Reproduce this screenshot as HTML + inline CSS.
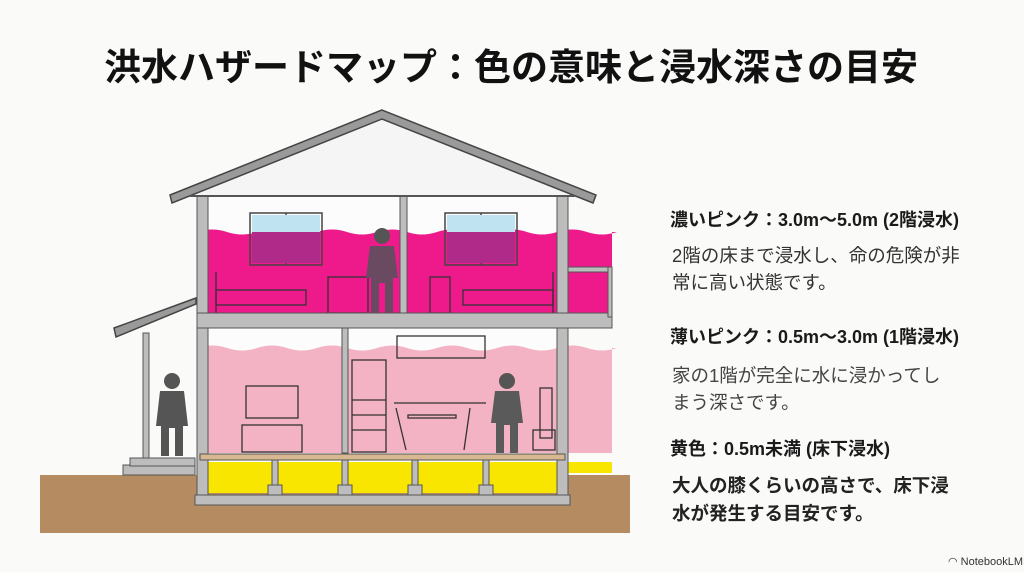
<!DOCTYPE html>
<html><head><meta charset="utf-8"><style>
html,body{margin:0;padding:0;background:#fafaf8;}
body{width:1024px;height:572px;overflow:hidden;position:relative;font-family:"Liberation Sans","Noto Sans CJK JP",sans-serif;}
.t{position:absolute;white-space:nowrap;color:#1a1a1a;}
</style></head><body>
<div class="t" style="left:104px;top:37px;font-size:37px;font-weight:bold;color:#111;">洪水ハザードマップ：色の意味と浸水深さの目安</div>
<svg width="1024" height="572" style="position:absolute;left:0;top:0">
<rect x="40" y="475" width="590" height="58" fill="#b58b62"/>
<polygon points="382,118 190,196 575,196" fill="#f5f5f5"/>
<rect x="208" y="196" width="349" height="117" fill="#fcfcfc"/>
<rect x="208" y="328" width="349" height="126" fill="#fcfcfc"/>
<path d="M197,232 q15,-5 30,0 t30,0 t30,0 t30,0 t30,0 t30,0 t30,0 t30,0 t30,0 t30,0 t30,0 t30,0 t30,0 t30,0 L612,232 L612,313 L197,313 Z" fill="#ee1a8c"/>
<path d="M197,348 q15,-5 30,0 t30,0 t30,0 t30,0 t30,0 t30,0 t30,0 t30,0 t30,0 t30,0 t30,0 t30,0 t30,0 t30,0 L612,348 L612,453 L197,453 Z" fill="#f3b3c4"/>
<rect x="205" y="462" width="352" height="31" fill="#f8e500"/>
<rect x="565" y="462" width="47" height="11" fill="#f8e500"/>
<g stroke="#444" stroke-width="1.5" fill="none">
<rect x="250" y="213" width="72" height="52"/><line x1="286" y1="213" x2="286" y2="265"/>
<rect x="445" y="213" width="72" height="52"/><line x1="481" y1="213" x2="481" y2="265"/>
</g>
<rect x="252" y="215" width="68" height="17" fill="#bfe3f0"/>
<rect x="447" y="215" width="68" height="17" fill="#bfe3f0"/>
<rect x="252" y="232" width="68" height="31" fill="#b02a8a"/>
<rect x="447" y="232" width="68" height="31" fill="#b02a8a"/>
<g stroke="#333" stroke-width="1.3" fill="none">
<rect x="216" y="290" width="90" height="15"/><line x1="216" y1="272" x2="216" y2="313"/>
<rect x="463" y="290" width="90" height="15"/><line x1="553" y1="272" x2="553" y2="313"/>
<rect x="328" y="277" width="40" height="36"/><rect x="430" y="277" width="20" height="36"/>
<rect x="246" y="386" width="52" height="32"/><rect x="242" y="425" width="60" height="27"/>
<rect x="352" y="360" width="34" height="92"/><line x1="352" y1="400" x2="386" y2="400"/><line x1="352" y1="415" x2="386" y2="415"/><line x1="352" y1="430" x2="386" y2="430"/>
<rect x="397" y="336" width="88" height="22"/>
<line x1="394" y1="403" x2="486" y2="403"/><rect x="408" y="415" width="48" height="3"/>
<line x1="396" y1="408" x2="406" y2="450"/><line x1="470" y1="408" x2="464" y2="450"/>
<rect x="540" y="388" width="12" height="50"/><rect x="533" y="430" width="22" height="20"/>
</g>
<g fill="#bdbdbd" stroke="#555" stroke-width="1">
<rect x="197" y="196" width="11" height="309"/>
<rect x="557" y="196" width="11" height="309"/>
<rect x="400" y="196" width="7" height="117"/>
<rect x="342" y="328" width="6" height="125"/>
<rect x="197" y="313" width="415" height="15"/>
<rect x="568" y="267" width="44" height="5"/>
<rect x="608" y="267" width="4" height="50"/>
<rect x="195" y="495" width="375" height="10"/>
<rect x="143" y="333" width="6" height="142"/>
<rect x="123" y="465" width="72" height="10"/><rect x="130" y="458" width="65" height="8"/>
</g>
<rect x="200" y="454" width="365" height="6" fill="#d8b890" stroke="#555" stroke-width="1"/>
<g fill="#bdbdbd" stroke="#555" stroke-width="1">
<rect x="272" y="460" width="6" height="25"/><rect x="342" y="460" width="6" height="25"/><rect x="412" y="460" width="6" height="25"/><rect x="483" y="460" width="6" height="25"/>
<rect x="268" y="485" width="14" height="10"/><rect x="338" y="485" width="14" height="10"/><rect x="408" y="485" width="14" height="10"/><rect x="479" y="485" width="14" height="10"/>
</g>
<polygon points="382,110 170,195 172,203 382,119 593,203 596,195" fill="#9a9a9a" stroke="#444" stroke-width="1.5"/>
<polygon points="114,328 196,298 196,304 116,337" fill="#9a9a9a" stroke="#444" stroke-width="1.5"/>
<line x1="190" y1="196" x2="575" y2="196" stroke="#555" stroke-width="2"/>
<g fill="#555">
<circle cx="172" cy="381" r="8"/><path d="M160,391 h24 l4,35 h-5 v30 h-8 v-28 h-6 v28 h-8 v-30 h-5 Z"/>
<circle cx="382" cy="236" r="8"/><path d="M370,246 h24 l4,32 h-5 v35 h-8 v-30 h-6 v30 h-8 v-35 h-5 Z" fill="#6a4a60"/>
<circle cx="507" cy="381" r="8"/><path d="M495,391 h24 l4,32 h-5 v30 h-8 v-28 h-6 v28 h-8 v-30 h-5 Z" fill="#5a5a5a"/>
</g>
</svg>
<div class="t" style="left:670px;top:206px;font-size:18px;font-weight:bold;">濃いピンク：3.0m〜5.0m (2階浸水)</div>
<div class="t" style="left:672px;top:242px;font-size:18.5px;color:#333;line-height:27px;">2階の床まで浸水し、命の危険が非<br>常に高い状態です。</div>
<div class="t" style="left:670px;top:323px;font-size:18px;font-weight:bold;">薄いピンク：0.5m〜3.0m (1階浸水)</div>
<div class="t" style="left:672px;top:362px;font-size:18.5px;color:#444;line-height:27px;">家の1階が完全に水に浸かってし<br>まう深さです。</div>
<div class="t" style="left:670px;top:435px;font-size:18px;font-weight:bold;">黄色：0.5m未満 (床下浸水)</div>
<div class="t" style="left:672px;top:472px;font-size:18.5px;font-weight:bold;color:#222;line-height:28px;">大人の膝くらいの高さで、床下浸<br>水が発生する目安です。</div>
<div class="t" style="left:948px;top:555px;font-size:11px;color:#333;">◠ NotebookLM</div>
</body></html>
